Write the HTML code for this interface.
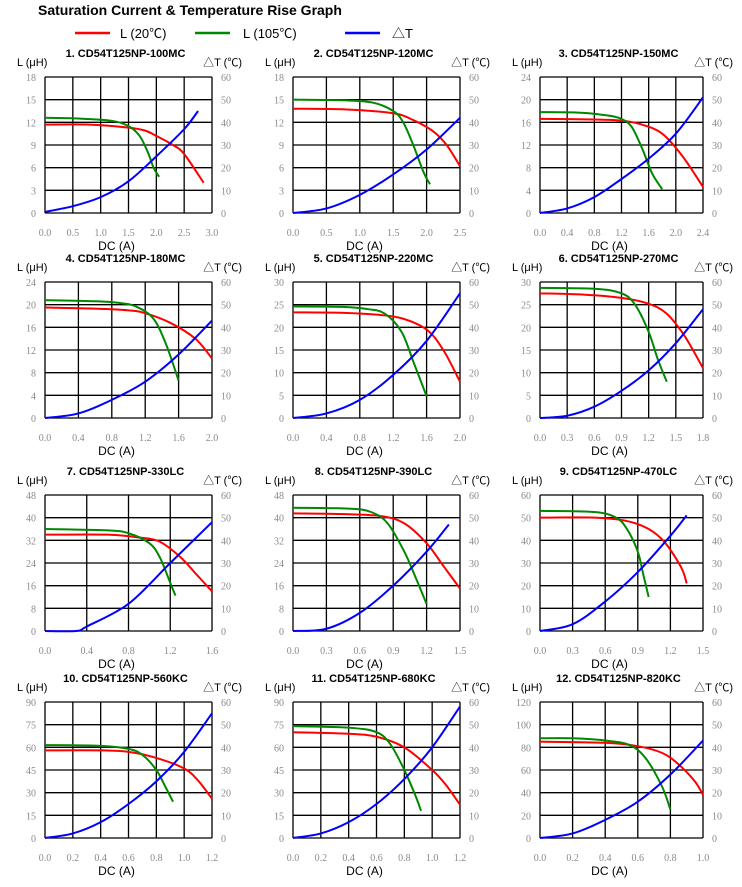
<!DOCTYPE html>
<html><head><meta charset="utf-8"><style>
body{margin:0;background:#fff;}
svg{display:block;font-family:"Liberation Sans","Noto Sans CJK SC",sans-serif;}
.tk{font-family:"Liberation Serif",serif;font-size:10px;fill:#8a8a8a;}
</style></head><body>
<svg id="c" width="742" height="887">
<text x="38" y="15" font-size="14" font-weight="bold">Saturation Current &amp; Temperature Rise  Graph</text>
<g>
<line x1="75" y1="33" x2="110" y2="33" stroke="#f00" stroke-width="2.5"/>
<text x="120" y="38" font-size="13">L (20℃)</text>
<line x1="195" y1="33" x2="230" y2="33" stroke="#080" stroke-width="2.5"/>
<text x="243" y="38" font-size="13">L (105℃)</text>
<line x1="345" y1="33" x2="380" y2="33" stroke="#00f" stroke-width="2.5"/>
<text x="392" y="38" font-size="13">△T</text>
</g>
</svg>
<script>
const titles=["1. CD54T125NP-100MC","2. CD54T125NP-120MC","3. CD54T125NP-150MC","4. CD54T125NP-180MC","5. CD54T125NP-220MC","6. CD54T125NP-270MC","7. CD54T125NP-330LC","8. CD54T125NP-390LC","9. CD54T125NP-470LC","10. CD54T125NP-560KC","11. CD54T125NP-680KC","12. CD54T125NP-820KC"];
const xMaxes=[3.0,2.5,2.4,2.0,2.0,1.8,1.6,1.5,1.5,1.2,1.2,1.0];
const xSteps=[0.5,0.5,0.4,0.4,0.4,0.3,0.4,0.3,0.3,0.2,0.2,0.2];
const yMaxes=[18,18,24,24,30,30,48,48,60,90,90,120];
const dtMax=60;
const redSeries=[
[[0,11.7],[0.8,11.7],[1.5,11.3],[1.8,10.9],[2.0,10.2],[2.3,9],[2.5,7.8],[2.85,4]],
[[0,13.8],[0.8,13.7],[1.5,13.2],[1.8,12.3],[2.1,10.8],[2.3,9],[2.5,6.2]],
[[0,16.6],[0.8,16.5],[1.2,16.3],[1.5,15.6],[1.8,14],[2.1,10],[2.4,4.6]],
[[0,19.5],[0.6,19.3],[1.0,19],[1.2,18.5],[1.5,16.8],[1.8,14],[2.0,10.5]],
[[0,23.3],[0.6,23.2],[1.0,22.8],[1.3,22],[1.6,19.5],[1.8,15],[2.0,8]],
[[0,27.5],[0.5,27.2],[0.9,26.5],[1.2,25.2],[1.4,23],[1.6,18],[1.8,11]],
[[0,34],[0.6,34],[0.9,33],[1.1,31.5],[1.3,26],[1.45,20],[1.6,14]],
[[0,41.5],[0.5,41.2],[0.8,40.5],[1.0,38],[1.2,31],[1.35,23],[1.5,15]],
[[0,50],[0.5,50],[0.8,48.5],[1.0,45],[1.15,39],[1.3,28],[1.35,21]],
[[0,58],[0.4,58],[0.6,57],[0.8,53],[1.0,46],[1.1,38],[1.2,26]],
[[0,70],[0.4,69],[0.6,67],[0.8,60],[1.0,45],[1.1,35],[1.2,22]],
[[0,85],[0.4,84],[0.6,81],[0.75,75],[0.85,65],[0.95,50],[1.0,38]]];
const greenSeries=[
[[0,12.6],[0.6,12.5],[1.2,12.2],[1.5,11.5],[1.7,10.2],[1.85,8],[1.95,6],[2.05,4.8]],
[[0,15],[0.8,14.9],[1.2,14.6],[1.5,13.5],[1.65,12],[1.8,9],[1.95,5.5],[2.05,3.8]],
[[0,17.8],[0.6,17.7],[1.0,17.2],[1.2,16.6],[1.35,15.2],[1.5,11.5],[1.65,7],[1.8,4.2]],
[[0,20.8],[0.6,20.6],[0.9,20.3],[1.1,19.6],[1.3,17.5],[1.45,13],[1.6,6.6]],
[[0,24.6],[0.6,24.5],[0.9,24],[1.1,23],[1.3,19],[1.45,12],[1.6,4.8]],
[[0,28.7],[0.6,28.5],[0.9,27.5],[1.05,25],[1.2,19],[1.3,13],[1.4,8]],
[[0,36],[0.6,35.5],[0.8,34.5],[1.0,31],[1.1,26],[1.2,17],[1.25,12.5]],
[[0,43.5],[0.5,43.2],[0.7,42],[0.85,38],[1.0,28],[1.1,19],[1.2,9.5]],
[[0,53],[0.5,52.5],[0.7,50],[0.8,45],[0.9,35],[0.95,25],[1.0,15]],
[[0,61.5],[0.4,61],[0.6,59],[0.7,55],[0.8,45],[0.87,33],[0.92,24]],
[[0,74],[0.4,73],[0.6,70],[0.7,62],[0.8,45],[0.88,28],[0.92,18]],
[[0,88],[0.2,88],[0.4,86],[0.55,82],[0.65,70],[0.75,45],[0.8,25]]];
const blueSeries=[
[[0,0.5],[0.5,3],[1,7],[1.5,14],[2,25],[2.5,37],[2.75,45]],
[[0,0],[0.5,2],[1,8],[1.5,17],[2,28],[2.5,42]],
[[0,0],[0.4,2],[0.8,7],[1.2,15],[1.6,24],[2.0,35],[2.4,51]],
[[0,0],[0.4,2],[0.8,8],[1.2,16],[1.6,28],[2.0,43]],
[[0,0],[0.4,2],[0.8,8],[1.2,19],[1.6,34],[2.0,55]],
[[0,0],[0.3,1],[0.6,5],[0.9,12],[1.2,21],[1.5,33],[1.8,48]],
[[0,0],[0.3,0],[0.4,2],[0.8,12],[1.2,30],[1.6,48]],
[[0,0],[0.3,1],[0.6,8],[0.9,20],[1.2,35],[1.4,47]],
[[0,0],[0.3,3],[0.6,13],[0.9,26],[1.2,42],[1.35,51]],
[[0,0],[0.2,2],[0.4,7],[0.6,15],[0.8,25],[1.0,38],[1.2,55]],
[[0,0],[0.2,2],[0.4,7],[0.6,15],[0.8,26],[1.0,40],[1.2,58]],
[[0,0],[0.2,2],[0.4,8],[0.6,16],[0.8,28],[1.0,43]]];

const NS="http://www.w3.org/2000/svg";
const svg=document.getElementById('c');
const colX=[45,293,540],colW=[167,167,163],rowY=[77,282,495,702],H=136;
function mk(tag,attrs,parent){const e=document.createElementNS(NS,tag);for(const k in attrs)e.setAttribute(k,attrs[k]);(parent||svg).appendChild(e);return e;}
function txt(x,y,s,cls,anchor,parent){const t=mk('text',{x:x,y:y,'text-anchor':anchor||'start'},parent);if(cls)t.setAttribute('class',cls);t.textContent=s;return t;}
function smooth(pts){let d='M'+pts[0][0]+','+pts[0][1];for(let i=0;i<pts.length-1;i++){const p0=pts[i-1]||pts[i],p1=pts[i],p2=pts[i+1],p3=pts[i+2]||p2;const c1=[p1[0]+(p2[0]-p0[0])/6,p1[1]+(p2[1]-p0[1])/6],c2=[p2[0]-(p3[0]-p1[0])/6,p2[1]-(p3[1]-p1[1])/6];d+=' C'+c1+' '+c2+' '+p2;}return d;}
for(let i=0;i<12;i++){
  const x0=colX[i%3],y0=rowY[Math.floor(i/3)],W=colW[i%3];
  const g=mk('g',{});
  
  
  const xs=v=>x0+v/xMaxes[i]*W, ys=v=>y0+H-v/yMaxes[i]*H, yt=v=>y0+H-v/dtMax*H;
  const t=txt(x0+W/2-3,y0-20,titles[i],'','middle',g);
  t.setAttribute('font-size','11');t.setAttribute('font-weight','bold');
  
  
  const lt=txt(x0-28,y0-11,'L (μH)','','start',g);lt.setAttribute('font-size','11');
  
  
  const rt=txt(x0+W+30,y0-11,'△T (℃)','','end',g);rt.setAttribute('font-size','11');
  
  
  const nx=Math.round(xMaxes[i]/xSteps[i]);
  for(let k=0;k<=nx;k++){const v=k*xSteps[i];
    mk('line',{x1:xs(v),y1:y0,x2:xs(v),y2:y0+H,stroke:'#000','stroke-width':1.3},g);
    const tl=txt(xs(v),y0+H+23,v.toFixed(1),'tk','middle',g);
    
    }
  for(let k=0;k<=6;k++){const v=k*yMaxes[i]/6;
    mk('line',{x1:x0,y1:ys(v),x2:x0+W,y2:ys(v),stroke:'#000','stroke-width':1.3},g);
    const a=txt(x0-9,ys(v)+4,String(v),'tk','end',g);
    
    
    const b=txt(x0+W+9,yt(k*10)+4,String(k*10),'tk','start',g);
    
    }
  const xt=txt(x0+W/2-12,y0+H+37,'DC (A)','','middle',g);xt.setAttribute('font-size','12');
  
  
  const series=[[redSeries[i],'#f00',ys,'line-l20'],[greenSeries[i],'#080',ys,'line-l105'],[blueSeries[i],'#00f',yt,'line-dt']];
  for(const s of series){
    const p=mk('path',{d:smooth(s[0].map(q=>[xs(q[0]),s[2](q[1])])),fill:'none',stroke:s[1],'stroke-width':2},g);
    
    }
}
</script>
</body></html>
